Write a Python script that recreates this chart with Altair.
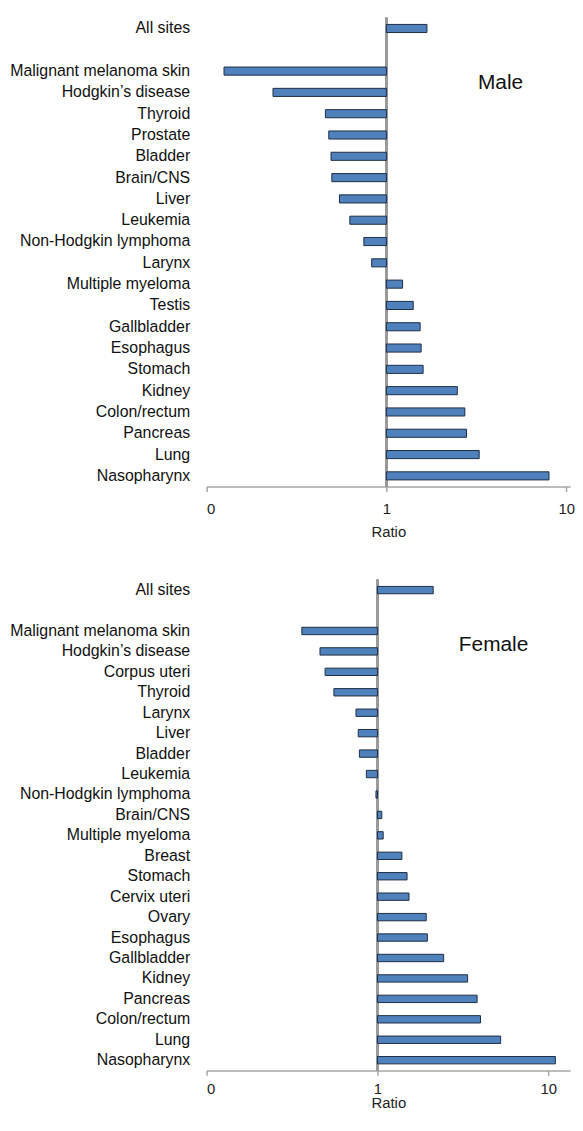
import altair as alt
import pandas as pd

male_sites = ["All sites", "Malignant melanoma skin", "Hodgkin’s disease", "Thyroid", "Prostate",
              "Bladder", "Brain/CNS", "Liver", "Leukemia", "Non-Hodgkin lymphoma", "Larynx",
              "Multiple myeloma", "Testis", "Gallbladder", "Esophagus", "Stomach", "Kidney",
              "Colon/rectum", "Pancreas", "Lung", "Nasopharynx"]
male_ratio = [1.68, 0.125, 0.234, 0.458, 0.478, 0.492, 0.497, 0.548, 0.626, 0.749, 0.828,
              1.23, 1.41, 1.54, 1.56, 1.60, 2.48, 2.73, 2.79, 3.28, 8.02]

female_sites = ["All sites", "Malignant melanoma skin", "Hodgkin’s disease", "Corpus uteri", "Thyroid",
                "Larynx", "Liver", "Bladder", "Leukemia", "Non-Hodgkin lymphoma", "Brain/CNS",
                "Multiple myeloma", "Breast", "Stomach", "Cervix uteri", "Ovary", "Esophagus",
                "Gallbladder", "Kidney", "Pancreas", "Colon/rectum", "Lung", "Nasopharynx"]
female_ratio = [2.12, 0.361, 0.461, 0.494, 0.556, 0.749, 0.772, 0.784, 0.861, 0.98, 1.06,
                1.08, 1.39, 1.49, 1.53, 1.93, 1.96, 2.44, 3.37, 3.83, 4.01, 5.26, 11.0]

x_ticks = [0.1, 1, 10]

FONT = "Liberation Sans"
FILL = "#4f81bd"
EDGE = "#1f2d44"
GREY = "#a6a6a6"
W = 366


def panel(sites, ratios, label, xmax, height, pad_inner, label_pad, title_pad, lx, ly):
    df = pd.DataFrame({"site": sites, "ratio": ratios})
    domain = [sites[0], " "] + sites[1:]
    xscale = alt.Scale(type="log", domain=[0.1, xmax], nice=False)
    yscale = alt.Scale(domain=domain, paddingInner=pad_inner, paddingOuter=pad_inner / 2)
    xaxis = alt.Axis(values=x_ticks, labelExpr="datum.value < 0.5 ? '0' : datum.label",
                     grid=False, domainColor=GREY, domainWidth=1.5, tickColor=GREY,
                     tickWidth=1.5, tickSize=5, labelPadding=label_pad, labelFontSize=15,
                     labelColor="#222222", title="Ratio", titleFontSize=15,
                     titleFontWeight="normal", titleColor="#222222", titlePadding=title_pad)
    yaxis = alt.Axis(title=None, ticks=False, domain=False, labelPadding=17, labelFontSize=16,
                     labelColor="#111111", labelLimit=400, minExtent=199, maxExtent=199)
    bars = alt.Chart(df).mark_bar(fill=FILL, stroke=EDGE, strokeWidth=1).encode(
        y=alt.Y("site:N", scale=yscale, axis=yaxis, sort=domain),
        x=alt.X("ratio:Q", scale=xscale, axis=xaxis),
        x2=alt.datum(1),
    )
    zero = alt.Chart(df).mark_rule(color="#9a9a9a", strokeWidth=1.5).encode(
        x=alt.datum(1), y=alt.value(0), y2=alt.value(height)
    )
    txt = alt.Chart(pd.DataFrame({"t": [label]})).mark_text(
        fontSize=21, align="center", baseline="middle", color="#111111"
    ).encode(text="t:N", x=alt.value(lx), y=alt.value(ly))
    return alt.layer(zero, bars, txt).properties(width=W, height=height)


male = panel(male_sites, male_ratio, "Male", 10.5, 472, 0.62, 10, 8, 296, 66)
female = panel(female_sites, female_ratio, "Female", 13.4, 494, 0.64, 6, -1, 289, 66)

chart = alt.vconcat(male, female, spacing=40).properties(
    padding={"left": 1, "top": 5, "right": 0, "bottom": 0}
).configure(font=FONT).configure_view(stroke=None)

chart.save("out.html", embed_options={"renderer": "svg", "actions": False})
